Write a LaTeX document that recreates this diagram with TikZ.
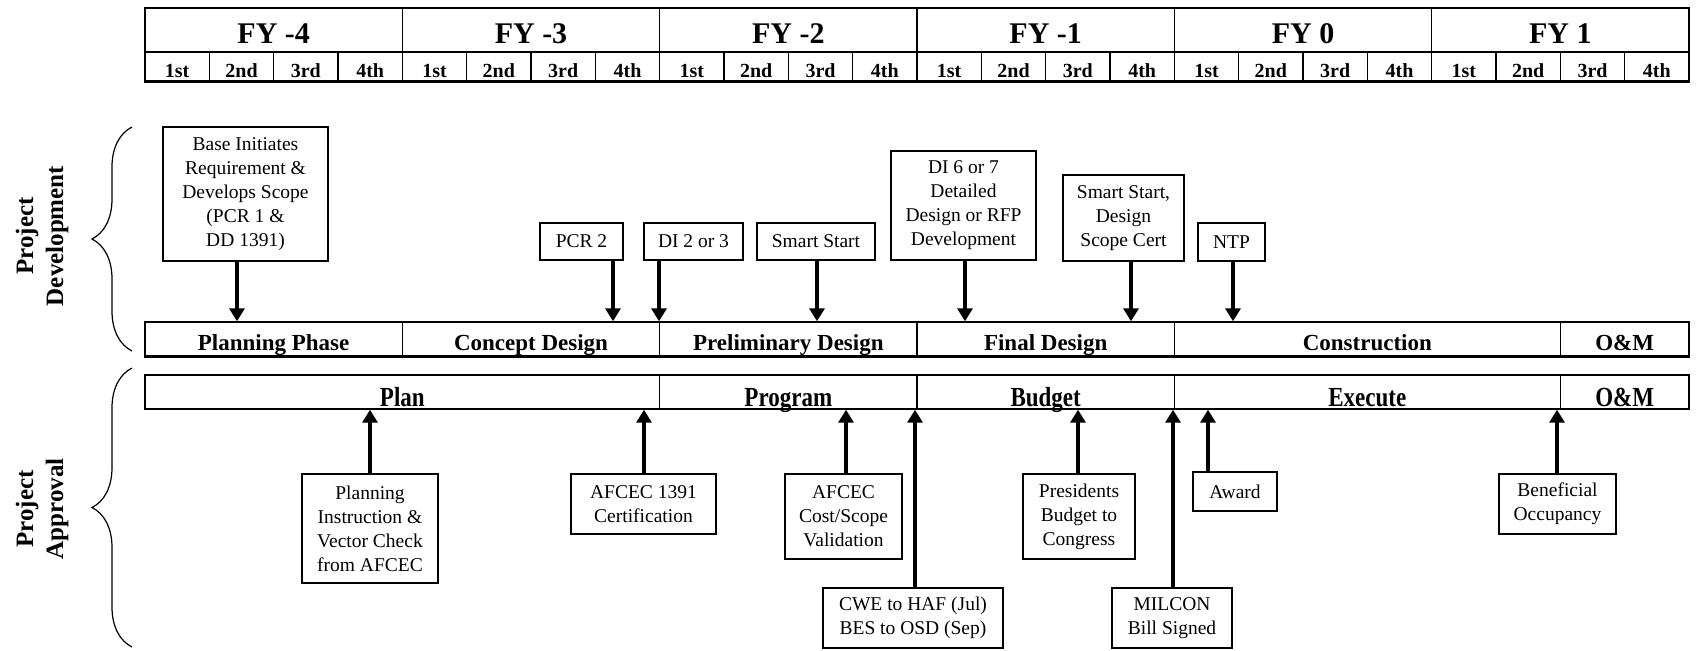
\documentclass[tikz,border=0pt]{standalone}
\usepackage{fontspec}
\setmainfont{Liberation Serif}
\usetikzlibrary{arrows.meta,decorations.pathreplacing}
\begin{document}
\begin{tikzpicture}[x=0.5pt,y=-0.5pt,
 every node/.style={inner sep=0pt},
 cellfy/.style={draw, line width=0.7pt, minimum width=128.67pt, minimum height=22pt, font=\fontsize{15pt}{18pt}\selectfont\bfseries, text height=13pt, text depth=0pt},
 cellq/.style={draw, line width=0.7pt, minimum width=32.17pt, minimum height=14.5pt, font=\fontsize{10pt}{12pt}\selectfont\bfseries, text height=10.5pt, text depth=0pt},
 seg/.style={draw, line width=0.7pt, minimum height=17pt, font=\fontsize{11.5pt}{13pt}\selectfont\bfseries, text height=11pt, text depth=0pt},
 aseg/.style={seg, text height=14pt},
 box/.style={draw, line width=0.7pt, align=center, font=\fontsize{9.75pt}{12pt}\selectfont},
 arr/.style={line width=2.2pt, -{Triangle[length=6.5pt,width=7.5pt]}},
 brc/.style={decorate, decoration={brace, amplitude=20pt}, line width=0.6pt},
 lab/.style={rotate=90, align=center, font=\fontsize{12.5pt}{15pt}\selectfont\bfseries}]
\useasboundingbox (0,0) rectangle (1697,650);

% header
\foreach \t [count=\i from 0] in {FY -4, FY -3, FY -2, FY -1, FY 0, FY 1}
  \node[cellfy] (fy\i) at ({273.67+257.33*\i},30) {\t};
\foreach \f in {0,...,5}
  \foreach \t [count=\k from 0] in {1st,2nd,3rd,4th}
    \node[cellq] (q\f\k) at ({177.17+64.333*(4*\f+\k)},66.5) {\t};
\draw[line width=1.5pt] (q00.south west) -- (q53.south east);

% development bar
\node[seg, minimum width=128.67pt] (pp) at (273.67,339) {Planning Phase};
\node[seg, minimum width=128.67pt] (cd) at (531,339) {Concept Design};
\node[seg, minimum width=128.67pt] (pd) at (788.33,339) {Preliminary Design};
\node[seg, minimum width=128.67pt] (fd) at (1045.67,339) {Final Design};
\node[seg, minimum width=193pt] (con) at (1367.33,339) {Construction};
\node[seg, minimum width=64.33pt] (om1) at (1624.67,339) {O\&M};
\draw[line width=1.5pt] (pp.south west) -- (om1.south east);

% approval bar
\node[aseg, minimum width=257.33pt] (plan) at (402.33,392) {\scalebox{1}[1.2]{Plan}};
\node[aseg, minimum width=128.67pt] (prog) at (788.33,392) {\scalebox{1}[1.2]{Program}};
\node[aseg, minimum width=128.67pt] (bud) at (1045.67,392) {\scalebox{1}[1.2]{Budget}};
\node[aseg, minimum width=193pt] (exe) at (1367.33,392) {\scalebox{1}[1.2]{Execute}};
\node[aseg, minimum width=64.33pt] (om2) at (1624.67,392) {\scalebox{1}[1.2]{O\&M}};

% top boxes
\node[box, minimum width=82.5pt, minimum height=67pt] (base) at (245.5,194) {Base Initiates\\Requirement \&\\Develops Scope\\(PCR 1 \&\\DD 1391)};
\node[box, minimum width=41.5pt, minimum height=18.5pt] (pcr2) at (581.5,241.5) {PCR 2};
\node[box, minimum width=49.5pt, minimum height=18.5pt] (di23) at (693.5,241.5) {DI 2 or 3};
\node[box, minimum width=59pt, minimum height=18.5pt] (smart) at (816,241.5) {Smart Start};
\node[box, minimum width=72.5pt, minimum height=54.5pt] (di67) at (963.5,205.5) {DI 6 or 7\\Detailed\\Design or RFP\\Development};
\node[box, minimum width=60.5pt, minimum height=43pt] (sscert) at (1123.5,218) {Smart Start,\\Design\\Scope Cert};
\node[box, minimum width=33.5pt, minimum height=19pt] (ntp) at (1231.5,242) {NTP};

\draw[arr] (base.south -| 237,0) -- (pp.north -| 237,0);
\draw[arr] (pcr2.south -| 613,0) -- (cd.north -| 613,0);
\draw[arr] (di23.south -| 659,0) -- (pd.north -| 659,0);
\draw[arr] (smart.south -| 817,0) -- (pd.north -| 817,0);
\draw[arr] (di67.south -| 965,0) -- (fd.north -| 965,0);
\draw[arr] (sscert.south -| 1131,0) -- (fd.north -| 1131,0);
\draw[arr] (ntp.south -| 1233,0) -- (con.north -| 1233,0);

% bottom boxes
\node[box, minimum width=68pt, minimum height=54.5pt] (planinst) at (370,528.5) {Planning\\Instruction \&\\Vector Check\\from AFCEC};
\node[box, minimum width=72.5pt, minimum height=30pt] (afc) at (643.5,504) {AFCEC 1391\\Certification};
\node[box, minimum width=58.5pt, minimum height=42.5pt] (afcval) at (843.5,516.5) {AFCEC\\Cost/Scope\\Validation};
\node[box, minimum width=90pt, minimum height=30pt] (cwe) at (913,618) {CWE to HAF (Jul)\\BES to OSD (Sep)};
\node[box, minimum width=56pt, minimum height=42.5pt] (pres) at (1079,516.5) {Presidents\\Budget to\\Congress};
\node[box, minimum width=60pt, minimum height=30pt] (milcon) at (1172,618) {MILCON\\Bill Signed};
\node[box, minimum width=42pt, minimum height=19.5pt] (award) at (1235,491.5) {Award};
\node[box, minimum width=58.5pt, minimum height=30pt] (benef) at (1557.5,504) {Beneficial\\Occupancy};

\draw[arr] (planinst.north -| 370,0) -- (plan.south -| 370,0);
\draw[arr] (afc.north -| 644,0) -- (plan.south -| 644,0);
\draw[arr] (afcval.north -| 846,0) -- (prog.south -| 846,0);
\draw[arr] (cwe.north -| 915,0) -- (prog.south -| 915,0);
\draw[arr] (pres.north -| 1078,0) -- (bud.south -| 1078,0);
\draw[arr] (milcon.north -| 1173,0) -- (bud.south -| 1173,0);
\draw[arr] (award.north -| 1208,0) -- (exe.south -| 1208,0);
\draw[arr] (benef.north -| 1557,0) -- (exe.south -| 1557,0);

% braces and labels
\draw[brc] (132,351) -- (132,127);
\draw[brc] (132,647) -- (132,368);
\node[lab] (devlab) at (42,236) {Project\\Development};
\node[lab] (applab) at (42,509) {Project\\Approval};
\end{tikzpicture}
\end{document}
